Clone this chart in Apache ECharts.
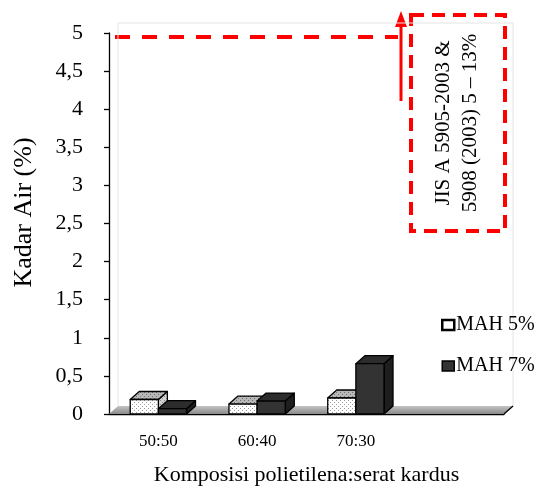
<!DOCTYPE html>
<html>
<head>
<meta charset="utf-8">
<script src="https://cdn.jsdelivr.net/npm/echarts@6/dist/echarts.min.js"></script>
<style>
  html, body { margin: 0; padding: 0; background: #fff; }
  #chart { width: 543px; height: 486px; }
</style>
</head>
<body>
<div id="chart"></div>
<script>
// Moisture content (Kadar Air) per polyethylene : cardboard fibre composition
const categories = ['50:50', '60:40', '70:30', ''];
const seriesNames = ['MAH 5%', 'MAH 7%'];
const mah5 = [0.19, 0.13, 0.21];
const mah7 = [0.07, 0.17, 0.66];
const yMin = 0, yMax = 5, yStep = 0.5;
const standardText = ['JIS A 5905-2003 &', '5908 (2003) 5 \u2013 13%'];

const FONT = 'Liberation Serif';
const DX = 9, DY = -8;          // oblique depth of the 3D columns

function dotPattern(bg, dot) {
  const c = document.createElement('canvas');
  c.width = 4; c.height = 4;
  const g = c.getContext('2d');
  g.fillStyle = bg; g.fillRect(0, 0, 4, 4);
  g.fillStyle = dot; g.fillRect(0, 0, 1, 1); g.fillRect(2, 2, 1, 1);
  return { image: c, repeat: 'repeat' };
}

const faces = [
  { front: dotPattern('#ffffff', '#9a9a9a'), top: dotPattern('#b8b8b8', '#707070'), side: dotPattern('#d2d2d2', '#8a8a8a') },
  { front: '#333333', top: '#2c2c2c', side: '#1e1e1e' }
];

function barRenderer(k) {
  return function (params, api) {
    const idx = api.value(0), v = api.value(1);
    const top = api.coord([idx, v]);
    const base = api.coord([idx, 0]);
    const cw = api.size([1, 0])[0];
    const w = cw * 0.285;
    const x0 = top[0] - w + k * w;
    const x1 = x0 + w;
    const yt = top[1], yb = base[1];
    const f = faces[k];
    const st = { stroke: '#000', lineWidth: 1.3, lineJoin: 'round' };
    return {
      type: 'group',
      children: [
        { type: 'polygon', shape: { points: [[x1, yb], [x1 + DX, yb + DY], [x1 + DX, yt + DY], [x1, yt]] },
          style: Object.assign({ fill: f.side }, st) },
        { type: 'polygon', shape: { points: [[x0, yt], [x0 + DX, yt + DY], [x1 + DX, yt + DY], [x1, yt]] },
          style: Object.assign({ fill: f.top }, st) },
        { type: 'rect', shape: { x: x0, y: yt, width: w, height: yb - yt },
          style: Object.assign({ fill: f.front }, st) }
      ]
    };
  };
}

// Floor and back wall of the 3D plot area
function floorRenderer(params, api) {
  const cs = params.coordSys;
  const y0 = api.coord([0, 0])[1];
  const xl = cs.x, xr = cs.x + cs.width;
  return {
    type: 'group',
    children: [
      { type: 'polyline', shape: { points: [[xl + DX, y0 + DY], [xl + DX, cs.y - 10], [xr + DX, cs.y - 10], [xr + DX, y0 + DY]] },
        style: { stroke: '#e4e4e4', lineWidth: 1, fill: null } },
      { type: 'polygon', shape: { points: [[xl, y0], [xl + DX, y0 + DY], [xr + DX, y0 + DY], [xr, y0]] },
        style: { fill: { type: 'linear', x: 0, y: 0, x2: 0, y2: 1,
          colorStops: [{ offset: 0, color: '#c4c4c4' }, { offset: 1, color: '#8a8a8a' }] } } },
      { type: 'line', shape: { x1: xr + DX, y1: y0 + DY, x2: xr, y2: y0 },
        style: { stroke: '#000', lineWidth: 1.3 } }
    ]
  };
}

const chart = echarts.init(document.getElementById('chart'), null, { renderer: 'canvas' });

chart.setOption({
  animation: false,
  backgroundColor: '#fff',
  textStyle: { fontFamily: FONT, color: '#000' },
  grid: { left: 109, right: 39, top: 33, bottom: 72, containLabel: false, outerBoundsMode: 'none' },
  legend: {
    orient: 'vertical',
    left: 441, top: 315,
    itemWidth: 12, itemHeight: 10, itemGap: 21,
    padding: 0,
    textStyle: { fontFamily: FONT, fontSize: 20, color: '#000', padding: [0, 0, 0, -3] },
    data: [
      { name: seriesNames[0], icon: 'rect', itemStyle: { color: '#fff', borderColor: '#000', borderWidth: 2.5 } },
      { name: seriesNames[1], icon: 'rect', itemStyle: { color: '#333', borderColor: '#000', borderWidth: 1.5 } }
    ]
  },
  xAxis: {
    type: 'category',
    data: categories,
    boundaryGap: true,
    offset: 3,
    axisLine: { lineStyle: { color: '#000', width: 1.3 } },
    axisTick: { length: 7, lineStyle: { color: '#000', width: 1.3 } },
    axisLabel: { fontFamily: FONT, fontSize: 17, color: '#000', margin: 16 },
    name: 'Komposisi polietilena:serat kardus',
    nameLocation: 'middle',
    nameGap: 47,
    nameTextStyle: { fontFamily: FONT, fontSize: 22, color: '#000' }
  },
  yAxis: {
    type: 'value',
    min: yMin, max: yMax, interval: yStep,
    axisLine: { show: true, lineStyle: { color: '#000', width: 1.3 } },
    axisTick: { show: true, length: 5, lineStyle: { color: '#000', width: 1.3 } },
    splitLine: { show: false },
    axisLabel: {
      fontFamily: FONT, fontSize: 22, color: '#000', margin: 26,
      formatter: v => String(v).replace('.', ',')
    },
    name: 'Kadar Air (%)',
    nameLocation: 'middle',
    nameRotate: 90,
    nameGap: 72,
    nameTextStyle: { fontFamily: FONT, fontSize: 26, color: '#000', padding: [0, 0, 0, 22] }
  },
  series: [
    { type: 'custom', name: 'floor', renderItem: floorRenderer, data: [[0, 0]], z: 1, silent: true },
    { type: 'custom', name: seriesNames[0], renderItem: barRenderer(0),
      itemStyle: { color: '#fff' },
      encode: { x: 0, y: 1 }, data: mah5.map((v, i) => [i, v]), z: 2 },
    { type: 'custom', name: seriesNames[1], renderItem: barRenderer(1),
      itemStyle: { color: '#333' },
      encode: { x: 0, y: 1 }, data: mah7.map((v, i) => [i, v]), z: 3 }
  ],
  graphic: [
    { type: 'line', shape: { x1: 115, y1: 37, x2: 398, y2: 37 },
      style: { stroke: '#ff0000', lineWidth: 4, lineDash: [15, 12] } },
    { type: 'line', shape: { x1: 401, y1: 101, x2: 401, y2: 24 },
      style: { stroke: '#ff0000', lineWidth: 3 } },
    { type: 'polygon', shape: { points: [[401, 11], [395, 27], [407, 27]] },
      style: { fill: '#ff0000' } },
    { type: 'rect', shape: { x: 411, y: 15, width: 94, height: 216 },
      style: { fill: 'none', stroke: '#ff0000', lineWidth: 4, lineDash: [13, 8] } },
    { type: 'text', x: 457, y: 123, rotation: Math.PI / 2,
      style: { text: standardText.join('\n'), font: '21px "Liberation Serif"', align: 'center',
        verticalAlign: 'middle', lineHeight: 27, fill: '#000' } }
  ]
});
</script>
</body>
</html>
